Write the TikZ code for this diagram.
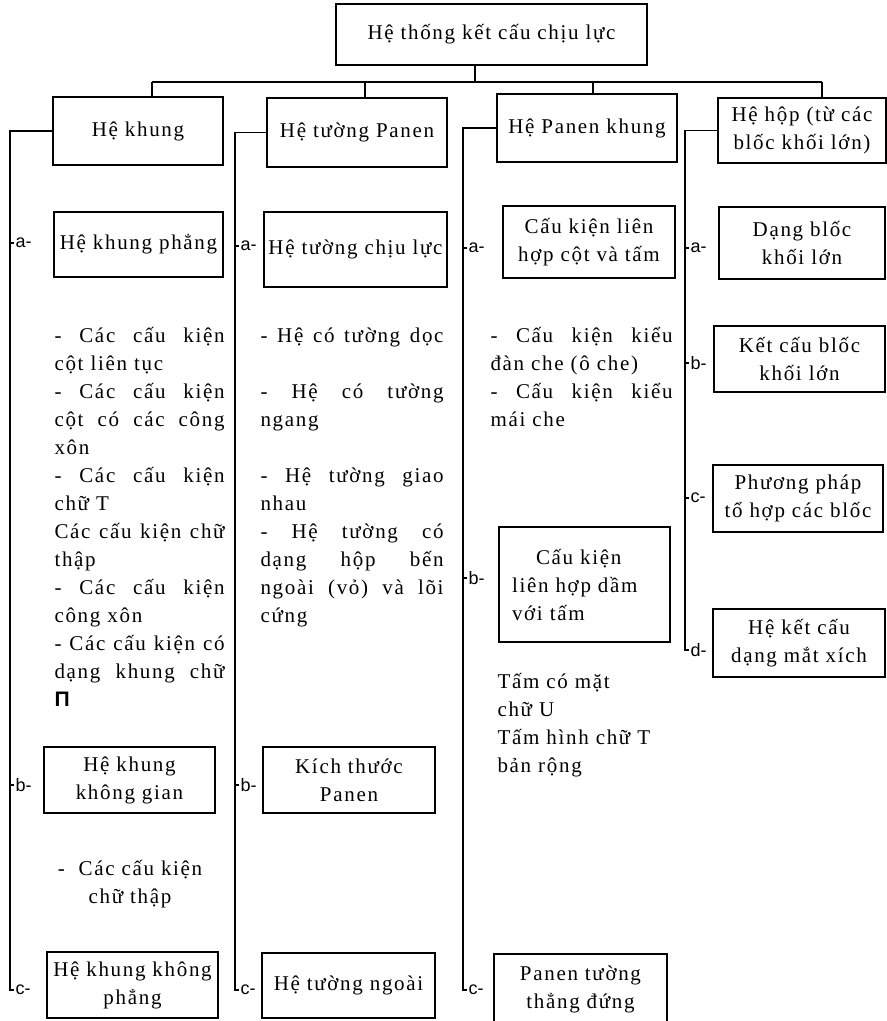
\documentclass[tikz,border=0pt]{standalone}
\usepackage{fontspec}
\setmainfont{Liberation Serif}[LetterSpace=8]
\newfontfamily\labf{Liberation Sans}
\newcommand{\ja}[1]{\makebox[170pt][l]{#1}}
\newcommand{\jb}[1]{\makebox[183pt][l]{#1}}
\newcommand{\jc}[1]{\makebox[182pt][l]{#1}}
\newcommand{\st}{\rule{0pt}{21pt}}
\begin{document}
\begin{tikzpicture}[x=1pt,y=-1pt,line width=1.1pt,
  box/.style={draw,line width=1.1pt,inner sep=1pt,align=center,font=\fontsize{21}{28}\selectfont},
  lab/.style={inner sep=1pt,anchor=west,font=\labf\fontsize{18}{20}\selectfont},
  txt/.style={inner sep=0pt,anchor=north west,align=left,font=\fontsize{21}{28}\selectfont},
  conn/.style={line width=1.1pt}]
\path[fill=white] (0,0) rectangle (887,1021);
\useasboundingbox (0,0) rectangle (887,1021);

% top and level 2
\node[box,minimum width=311pt,minimum height=61pt] (top) at (491.5,34.5) {Hệ thống kết cấu chịu lực};
\node[box,minimum width=170pt,minimum height=68pt] (k1) at (138,131) {Hệ khung};
\node[box,minimum width=180pt,minimum height=69pt] (k2) at (357,132.5) {Hệ tường Panen};
\node[box,minimum width=180pt,minimum height=68pt] (k3) at (587,128) {Hệ Panen khung};
\node[box,minimum width=168pt,minimum height=65pt] (k4) at (802,130.5) {Hệ hộp (từ các\\blốc khối lớn)};

% column 1
\node[box,minimum width=169pt,minimum height=65pt] (c1a) at (138.5,244.5) {Hệ khung phẳng};
\node[box,minimum width=171pt,minimum height=66pt] (c1b) at (129.5,780) {Hệ khung\\không gian};
\node[box,minimum width=171pt,minimum height=66pt] (c1c) at (132.5,985) {Hệ khung không\\phẳng};
% column 2
\node[box,minimum width=183pt,minimum height=75pt] (c2a) at (355.5,249.5) {Hệ tường chịu lực};
\node[box,minimum width=172pt,minimum height=66pt] (c2b) at (349,780) {Kích thước\\Panen};
\node[box,minimum width=173pt,minimum height=65pt] (c2c) at (348.5,985.5) {Hệ tường ngoài};
% column 3
\node[box,minimum width=172pt,minimum height=72pt] (c3a) at (589,242) {Cấu kiện liên\\hợp cột và tấm};
\node[box,minimum width=171pt,minimum height=115pt,text width=145pt,inner xsep=13pt,align=left] (c3b) at (584.5,584.5) {\hspace*{24pt}Cấu kiện\\liên hợp dầm\\với tấm};
\node[box,minimum width=173pt,minimum height=70pt] (c3c) at (580.5,989) {Panen tường\\thẳng đứng};
% column 4
\node[box,minimum width=166pt,minimum height=72pt] (c4a) at (802,243) {Dạng blốc\\khối lớn};
\node[box,minimum width=171pt,minimum height=66pt] (c4b) at (799.5,359) {Kết cấu blốc\\khối lớn};
\node[box,minimum width=170pt,minimum height=67pt] (c4c) at (798,498.5) {Phương pháp\\tổ hợp các blốc};
\node[box,minimum width=172pt,minimum height=68pt] (c4d) at (799,643) {Hệ kết cấu\\dạng mắt xích};

% free texts
\node[txt,text width=170pt] (t1) at (54,321) {\st\ja{-\hfill Các\hfill cấu\hfill kiện}\\
cột liên tục\\
\ja{-\hfill Các\hfill cấu\hfill kiện}\\
\ja{cột\hfill có\hfill các\hfill công}\\
xôn\\
\ja{-\hfill Các\hfill cấu\hfill kiện}\\
chữ T\\
\ja{Các\hfill cấu\hfill kiện\hfill chữ}\\
thập\\
\ja{-\hfill Các\hfill cấu\hfill kiện}\\
công xôn\\
\ja{-\hfill Các\hfill cấu\hfill kiện\hfill có}\\
\ja{dạng\hfill khung\hfill chữ}\\
{\labf\bfseries Π}};
\node[txt,anchor=north,align=center] (t5) at (130,854) {\st -\ \ Các cấu kiện\\chữ thập};
\node[txt,text width=183pt] (t2) at (260,321) {\st\jb{-\hfill Hệ\hfill có\hfill tường\hfill dọc}\\
\mbox{}\\
\jb{-\hfill Hệ\hfill có\hfill tường}\\
ngang\\
\mbox{}\\
\jb{-\hfill Hệ\hfill tường\hfill giao}\\
nhau\\
\jb{-\hfill Hệ\hfill tường\hfill có}\\
\jb{dạng\hfill hộp\hfill bến}\\
\jb{ngoài\hfill (vỏ)\hfill và\hfill lõi}\\
cứng};
\node[txt,text width=182pt] (t3) at (490,321) {\st\jc{-\hfill Cấu\hfill kiện\hfill kiểu}\\
đàn che (ô che)\\
\jc{-\hfill Cấu\hfill kiện\hfill kiểu}\\
mái che};
\node[txt,text width=180pt] (t4) at (497,667) {\st Tấm có mặt\\chữ U\\Tấm hình chữ T\\bản rộng};

% labels
\node[lab] (l1a) at (14,243) {a-};
\node[lab] (l1b) at (14,785) {b-};
\node[lab] (l1c) at (14,990) {c-};
\node[lab] (l2a) at (239,246) {a-};
\node[lab] (l2b) at (239,785) {b-};
\node[lab] (l2c) at (239,990) {c-};
\node[lab] (l3a) at (467,248) {a-};
\node[lab] (l3b) at (467,578) {b-};
\node[lab] (l3c) at (467,990) {c-};
\node[lab] (l4a) at (689,248) {a-};
\node[lab] (l4b) at (689,363) {b-};
\node[lab] (l4c) at (689,498) {c-};
\node[lab] (l4d) at (689,650) {d-};

% bus
\coordinate (bus) at (475,82);
\coordinate (busL) at (152,82);
\coordinate (bus2) at (365,82);
\coordinate (bus3) at (593,82);
\coordinate (busR) at (822,82);
\draw[conn] (top.south -| bus) -- (bus);
\draw[conn] (busL) -- (busR);
\draw[conn] (busL) -- (busL |- k1.north);
\draw[conn] (bus2) -- (bus2 |- k2.north);
\draw[conn] (bus3) -- (bus3 |- k3.north);
\draw[conn] (busR) -- (busR |- k4.north);

% spines
\coordinate (s1) at (10,0);
\coordinate (s2) at (235,0);
\coordinate (s3) at (463,0);
\coordinate (s4) at (685,0);
\draw[conn] (k1.west) -| (s1 |- l1c.west) -- (l1c.west);
\draw[conn] (s1 |- l1a.west) -- (l1a.west);
\draw[conn] (s1 |- l1b.west) -- (l1b.west);
\draw[conn] (k2.west) -| (s2 |- l2c.west) -- (l2c.west);
\draw[conn] (s2 |- l2a.west) -- (l2a.west);
\draw[conn] (s2 |- l2b.west) -- (l2b.west);
\draw[conn] (k3.west) -| (s3 |- l3c.west) -- (l3c.west);
\draw[conn] (s3 |- l3a.west) -- (l3a.west);
\draw[conn] (s3 |- l3b.west) -- (l3b.west);
\draw[conn] (k4.west) -| (s4 |- l4d.west) -- (l4d.west);
\draw[conn] (s4 |- l4a.west) -- (l4a.west);
\draw[conn] (s4 |- l4b.west) -- (l4b.west);
\draw[conn] (s4 |- l4c.west) -- (l4c.west);
\end{tikzpicture}
\end{document}
